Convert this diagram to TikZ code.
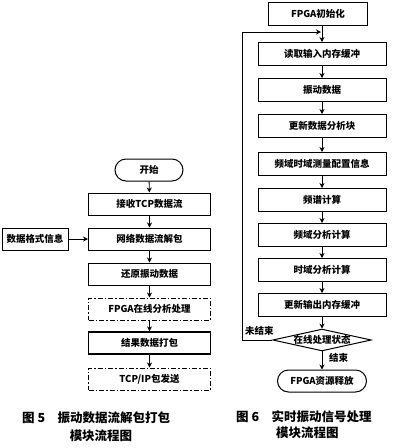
\documentclass[tikz,border=0pt]{standalone}
\usepackage{fontspec}
\newfontfamily\cjk{Noto Sans CJK SC}
\usetikzlibrary{shapes.geometric,arrows.meta}
\begin{document}
\begin{tikzpicture}[x=1pt,y=-1pt,
  font=\cjk\bfseries\fontsize{9.5}{10}\selectfont,
  every node/.style={inner sep=0pt},
  box/.style={draw,line width=1pt,minimum height=22pt,text width=#1,align=center},
  box/.default=122pt,
  rbox/.style={draw,line width=1pt,minimum height=23pt,minimum width=128pt},
  dbox/.style={box,dash pattern=on 5pt off 2pt on 1.5pt off 2pt},
  term/.style={draw,line width=1pt,rounded corners=11pt,minimum height=22pt,minimum width=#1},
  arr/.style={-{Stealth[length=5pt,width=5pt]},line width=0.9pt},
  captext/.style={font=\cjk\bfseries\fontsize{12.5}{14}\selectfont}]
\useasboundingbox (0,0) rectangle (400,448);
% left chart
\node[term=68pt] (s) at (149,170) {开始};
\node[box] (a1) at (149.5,204) {接收TCP数据流};
\node[box] (a2) at (149.5,239) {网络数据流解包};
\node[box=66pt] (fmt) at (35,239) {数据格式信息};
\node[box] (a3) at (149.5,274) {还原振动数据};
\node[dbox] (a4) at (149.5,309) {FPGA在线分析处理};
\node[box,line width=1.4pt] (a5) at (149.5,343) {结果数据打包};
\node[dbox] (a6) at (149.5,379) {TCP/IP包发送};
\draw[arr] (s) -- (a1);
\draw[arr] (a1) -- (a2);
\draw[arr] (fmt) -- (a2);
\draw[arr] (a2) -- (a3);
\draw[arr] (a3) -- (a4);
\draw[arr] (a4) -- (a5);
\draw[arr] (a5) -- (a6);
\node[captext,anchor=west] (c5a) at (22,418) {图 5\quad 振动数据流解包打包};
\node[captext] (c5b) at (101,436) {模块流程图};
% right chart
\node[draw,line width=1pt,minimum height=23pt,minimum width=99pt] (b0) at (318,14) {FPGA初始化};
\node[rbox] (b1) at (322,54) {读取输入内存缓冲};
\node[rbox] (b2) at (322,90) {振动数据};
\node[rbox] (b3) at (322,126) {更新数据分析块};
\node[rbox] (b4) at (322,164) {频域时域测量配置信息};
\node[rbox] (b5) at (322,200) {频谱计算};
\node[rbox] (b6) at (322,235) {频域分析计算};
\node[rbox] (b7) at (322,270) {时域分析计算};
\node[rbox] (b8) at (322,305) {更新输出内存缓冲};
\node[draw,diamond,aspect=4.5,line width=1pt,minimum width=89pt,minimum height=20pt,inner sep=0pt] (d) at (322,340) {在线处理状态};
\node[term=89pt] (e) at (322,381) {FPGA资源释放};
\coordinate (j) at (322,32);
\coordinate (lb) at (242,340);
\coordinate (lt) at (242,32);
\draw[line width=0.9pt] (b0.south -| j) -- (j);
\draw[arr] (j) -- (b1);
\draw[arr] (b1) -- (b2);
\draw[arr] (b2) -- (b3);
\draw[arr] (b3) -- (b4);
\draw[arr] (b4) -- (b5);
\draw[arr] (b5) -- (b6);
\draw[arr] (b6) -- (b7);
\draw[arr] (b7) -- (b8);
\draw[arr] (b8) -- (d);
\draw[arr] (d) -- (e);
\draw[arr] (d.west) -- (lb) -- (lt) -- ([xshift=-1pt]j);
\node[anchor=west] (l1) at (245,331) {未结束};
\node[anchor=west] (l2) at (329,358) {结束};
\node[captext,anchor=west] (c6a) at (236,417) {图 6\quad 实时振动信号处理};
\node[captext,anchor=west] (c6b) at (276,433) {模块流程图};
\end{tikzpicture}
\end{document}
